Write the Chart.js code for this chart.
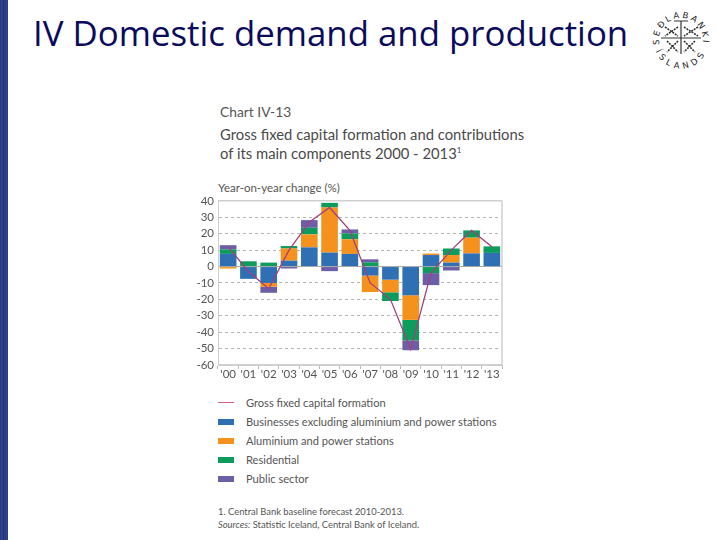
<!DOCTYPE html>
<html>
<head>
<meta charset="utf-8">
<title>Chart IV-13</title>
<script src="https://cdn.jsdelivr.net/npm/chart.js@4"></script>
<style>
    html, body { margin: 0; padding: 0; background: #fff; }
    body { width: 720px; height: 540px; position: relative; overflow: hidden; font-family: Lato, sans-serif; color: #555; }
    .strip { position: absolute; left: 0; top: 0; width: 8px; height: 540px;
        background: repeating-linear-gradient(90deg, #1f3075 0, #3a4f98 2px, #1c2b6c 3px, #324690 5px); }
    .txt { position: absolute; white-space: nowrap; line-height: 1; }
    #slide-title { left: 33px; top: 16px; font-family: "Open Sans", sans-serif; font-size: 34.8px; color: #0b0b5e; }
    #chart-no { left: 220px; top: 105px; font-size: 13.8px; }
    .head { left: 220px; font-size: 14.8px; color: #4a4a4a; }
    #unit { left: 218px; top: 182px; font-size: 11.5px; }
    #canvas-wrap { position: absolute; left: 190px; top: 190px; width: 320px; height: 196px; }
    .swatch { position: absolute; left: 218px; width: 16px; height: 6px; }
    .leg { left: 246px; font-size: 11.1px; }
    .note { left: 218px; font-size: 9.4px; }
    #logo { position: absolute; left: 648px; top: 7px; }
</style>
</head>
<body>
<div class="strip"></div>
<div class="txt" id="slide-title">IV Domestic demand and production</div>

<svg id="logo" width="68" height="68" viewBox="0 0 68 68">
    <defs>
        <path id="arcTop" d="M 14 44 A 22 22 0 1 1 52 44"></path>
        <path id="arcBottom" d="M 7 42 A 27 27 0 0 0 59 42"></path>
    </defs>
    <text font-family="DejaVu Sans" font-size="8.5" fill="#222" letter-spacing="2.4"><textPath href="#arcTop" startOffset="50%" text-anchor="middle">SEÐLABANKI</textPath></text>
    <text font-family="DejaVu Sans" font-size="8.5" fill="#222" letter-spacing="4"><textPath href="#arcBottom" startOffset="50%" text-anchor="middle">ÍSLANDS</textPath></text>
    <g stroke="#333" fill="none">
        <path d="M 13 31 H 53 M 33 14 V 47 M 26 14 H 40" stroke-width="1.2"></path>
        <path d="M 17 20 L 30 29 M 30 20 L 17 29 M 36 20 L 50 29 M 50 20 L 36 29 M 19 34 L 30 45 M 30 34 L 19 45 M 36 34 L 47 45 M 47 34 L 36 45" stroke-width="1.6" stroke-dasharray="2 1"></path>
    </g>
</svg>

<div class="txt" id="chart-no">Chart IV-13</div>
<div class="txt head" style="top:127px">Gross fixed capital formation and contributions</div>
<div class="txt head" style="top:146px">of its main components 2000 - 2013<sup style="font-size:8px;line-height:0">1</sup></div>
<div class="txt" id="unit">Year-on-year change (%)</div>

<div id="canvas-wrap"><canvas id="chart"></canvas></div>
<div id="legend"></div>

<div class="txt note" style="top:507px">1. Central Bank baseline forecast 2010-2013.</div>
<div class="txt note" style="top:520px"><i>Sources:</i> Statistic Iceland, Central Bank of Iceland.</div>

<script>
// Values
const years = ["'00", "'01", "'02", "'03", "'04", "'05", "'06", "'07", "'08", "'09", "'10", "'11", "'12", "'13"];

// A year can have more than one part on the same side of zero, stacking handles that
const businesses = [7.7, -7.5, -10, 3.6, 11.7, 8.5, 7.7, -5.5, -8, -17.5, 7, 2.4, 8, 8.3];
const aluminium = [-1.2, 0, -2.3, 7.4, 7.9, 27.5, 8.9, -10, -7.7, -15, 0.9, 4.6, 9.6, 0];
const residential = [2.8, 3.2, 2.4, 1.5, 4, 2.8, 3.6, 2.6, -5.3, -12.5, -4, 4, 4.4, 4];
const publicSector = [2.5, 0, -3.7, -1.2, 4.7, -2.8, 2.4, 1.8, 0, -6, -7.3, -2.4, 0, 0];
const grossFixed = [12, -3, -13.5, 10, 27, 36, 22, -10, -20, -50.5, -4, 10, 22, 12];

const legendLabels = [
    'Gross fixed capital formation',
    'Businesses excluding aluminium and power stations',
    'Aluminium and power stations',
    'Residential',
    'Public sector'
];

const lineColor = '#a0427f';
const barColors = ['#2f6fb3', '#f5921e', '#0e9c5c', '#6c5fa7'];

// Legend next to the chart
const legendBox = document.getElementById('legend');
legendLabels.forEach((label, i) => {
    const top = 397 + i * 19;
    const text = document.createElement('div');
    text.className = 'txt leg';
    text.style.top = top + 'px';
    text.textContent = label;
    legendBox.appendChild(text);

    const swatch = document.createElement('div');
    swatch.className = 'swatch';
    if (i === 0) {
        swatch.style.top = (top + 5) + 'px';
        swatch.style.height = '1px';
        swatch.style.background = '#c9608f';
    } else {
        swatch.style.top = (top + 3) + 'px';
        swatch.style.background = barColors[i - 1];
    }
    legendBox.appendChild(swatch);
});

function barSet(label, data, color) {
    return {
        type: 'bar',
        label: label,
        data: data,
        backgroundColor: color,
        stack: 'parts',
        barPercentage: 0.82,
        categoryPercentage: 1,
        order: 2
    };
}

new Chart(document.getElementById('chart'), {
    data: {
        labels: years,
        datasets: [
            {
                type: 'line',
                label: legendLabels[0],
                data: grossFixed,
                borderColor: lineColor,
                borderWidth: 1.3,
                pointRadius: 0,
                tension: 0,
                order: 1
            },
            barSet(legendLabels[1], businesses, barColors[0]),
            barSet(legendLabels[2], aluminium, barColors[1]),
            barSet(legendLabels[3], residential, barColors[2]),
            barSet(legendLabels[4], publicSector, barColors[3])
        ]
    },
    options: {
        responsive: true,
        maintainAspectRatio: false,
        animation: false,
        layout: { padding: { top: 7, right: 8 } },
        plugins: {
            legend: { display: false },
            title: { display: false },
            tooltip: { enabled: false }
        },
        scales: {
            x: {
                stacked: true,
                afterFit: function(scale) { scale.height = 21; },
                grid: {
                    offset: true,
                    drawOnChartArea: false,
                    color: '#bbb',
                    tickLength: 4
                },
                border: { color: '#ccc' },
                ticks: {
                    color: '#555',
                    font: { family: 'Lato', size: 11.5 },
                    padding: -2,
                    autoSkip: false,
                    maxRotation: 0
                }
            },
            y: {
                stacked: true,
                min: -60,
                max: 40,
                afterFit: function(scale) { scale.width = 28; },
                grid: {
                    color: function(ctx) {
                        if (ctx.tick.value === 0) return '#aaa';
                        if (ctx.tick.value === 40 || ctx.tick.value === -60) return '#d0d0d0';
                        return '#b5b5b5';
                    },
                    lineWidth: function(ctx) {
                        return ctx.tick.value === 40 || ctx.tick.value === -60 ? 1.5 : 1;
                    },
                    drawTicks: false
                },
                border: {
                    color: '#d0d0d0',
                    dash: function(ctx) {
                        const v = ctx.tick ? ctx.tick.value : 0;
                        return v === 0 || v === 40 || v === -60 ? [] : [3, 3];
                    }
                },
                ticks: {
                    stepSize: 10,
                    autoSkip: false,
                    color: '#555',
                    font: { family: 'Lato', size: 11.5 },
                    padding: 4
                }
            }
        }
    },
    plugins: [{
        // right edge of the frame
        id: 'frameRight',
        afterDraw: function(chart) {
            const a = chart.chartArea;
            const c = chart.ctx;
            c.save();
            c.strokeStyle = '#d0d0d0';
            c.lineWidth = 1.5;
            c.beginPath();
            c.moveTo(a.right, a.top);
            c.lineTo(a.right, a.bottom);
            c.stroke();
            c.restore();
        }
    }]
});
</script>
</body>
</html>
